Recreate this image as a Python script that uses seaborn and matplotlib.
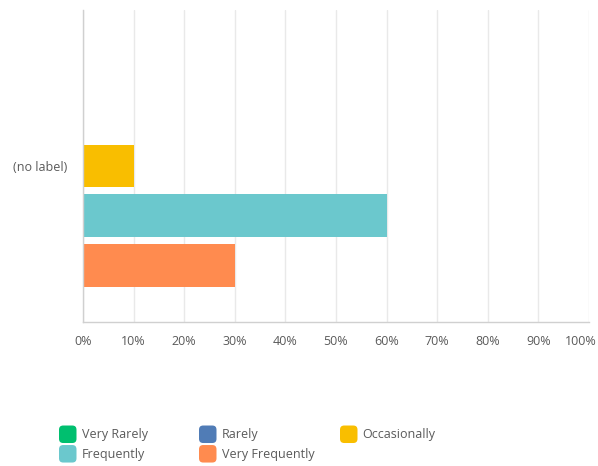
import matplotlib
matplotlib.use("Agg")
import matplotlib.pyplot as plt
import matplotlib.transforms as mtransforms
import seaborn as sns
import pandas as pd
from matplotlib.patches import FancyBboxPatch, Patch
from matplotlib.legend_handler import HandlerPatch

categories = ["(no label)"]
series = ["Very Rarely", "Rarely", "Occasionally", "Frequently", "Very Frequently"]
values = [0, 0, 10, 60, 30]
colors = ["#00bf6f", "#507cb6", "#f9be00", "#6bc8cd", "#ff8b4f"]
xticks = [0, 10, 20, 30, 40, 50, 60, 70, 80, 90, 100]
xticklabels = [f"{t}%" for t in xticks]

df = pd.DataFrame({"category": categories * len(series), "series": series, "value": values})

sns.set_style("white")
plt.rcParams["font.family"] = ["Open Sans", "DejaVu Sans"]
FS = 9
TC = "#5a5a5a"

fig = plt.figure(figsize=(5.98, 4.66), dpi=100)
ax = fig.add_axes([83 / 598, 1 - 322 / 466, 506 / 598, 312 / 466])

sns.barplot(data=df, x="value", y="category", hue="series", hue_order=series,
            palette=dict(zip(series, colors)), orient="h", width=0.8, gap=0.14,
            legend=False, ax=ax, saturation=1, edgecolor="none", linewidth=0)

ax.set_xlim(0, 100)
ax.set_ylim(0.5, -0.5)
ax.set_xticks(xticks)
ax.set_xticklabels(xticklabels)
ax.set_xlabel("")
ax.set_ylabel("")
ax.grid(axis="x", color="#e9e9e9", linewidth=1)
ax.grid(axis="y", visible=False)
ax.set_axisbelow(True)
for s in ["top", "right"]:
    ax.spines[s].set_visible(False)
for s in ["left", "bottom"]:
    ax.spines[s].set_color("#d0d0d0")
    ax.spines[s].set_linewidth(1)
ax.tick_params(axis="x", length=0, pad=9.5, labelsize=FS, labelcolor=TC)
ax.tick_params(axis="y", length=0, pad=11.5, labelsize=FS, labelcolor=TC)

# shift the last tick label left so it stays inside the figure
last = ax.get_xticklabels()[-1]
last.set_transform(last.get_transform() + mtransforms.ScaledTranslation(-8 / 100, 0, fig.dpi_scale_trans))


class RoundHandler(HandlerPatch):
    def create_artists(self, legend, orig_handle, xdescent, ydescent, width, height, fontsize, trans):
        size = min(width, height)
        p = FancyBboxPatch((-xdescent, -ydescent + (height - size) / 2), size, size,
                           boxstyle="round,pad=0,rounding_size=3",
                           facecolor=orig_handle.get_facecolor(), edgecolor="none",
                           transform=trans)
        return [p]


columns = [[0, 3], [1, 4], [2]]
col_x = [59, 199, 340]
for idxs, x in zip(columns, col_x):
    handles = [Patch(facecolor=colors[i]) for i in idxs]
    labels = [series[i] for i in idxs]
    leg = fig.legend(handles, labels, ncol=1, loc="upper left",
                     bbox_to_anchor=(x / 598, 1 - 425.5 / 466), frameon=False,
                     handler_map={Patch: RoundHandler()}, handlelength=1.4, handleheight=1.78,
                     handletextpad=0.4, labelspacing=0.16, borderpad=0, borderaxespad=0,
                     prop={"size": FS})
    for t in leg.get_texts():
        t.set_color(TC)

fig.savefig("out.png", dpi=100)
